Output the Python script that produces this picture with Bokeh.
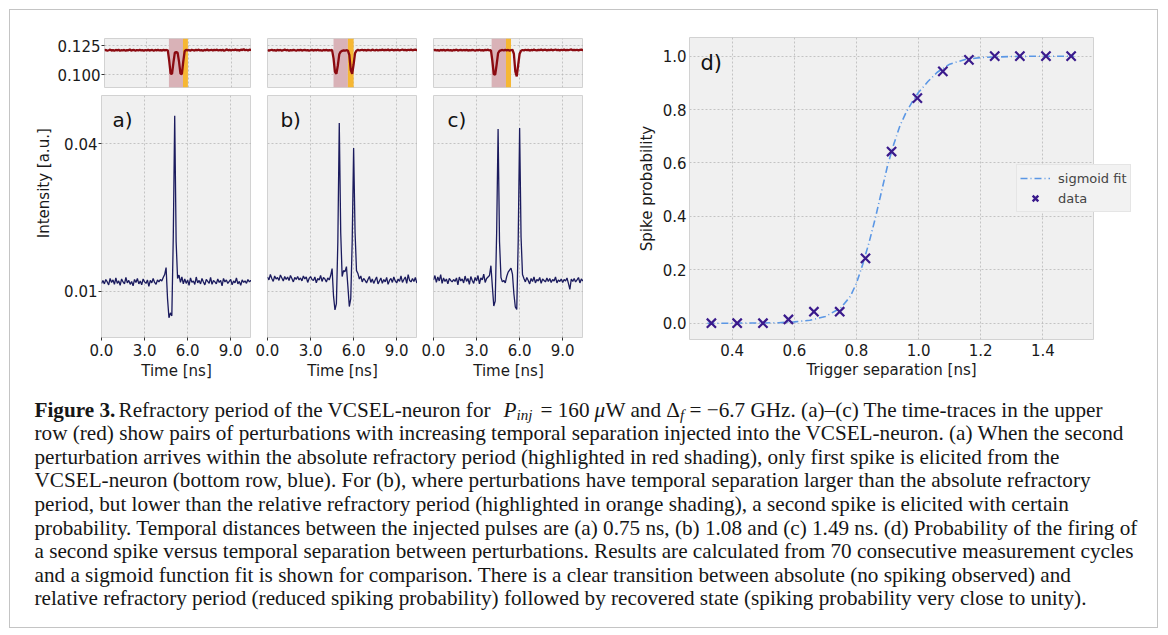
import numpy as np
from math import pi
from bokeh.plotting import figure
from bokeh.layouts import row, column
from bokeh.models import (Range1d, Label, BoxAnnotation, Legend, LegendItem,
                          FixedTicker, PrintfTickFormatter)
from bokeh.embed import file_html
from bokeh.resources import INLINE

# ---------------- data ----------------
# oscilloscope time base: 0.1 ns per sample, 0 .. 10.5 ns
time_step_ns = 0.1
n_samples = 106

# injected perturbations (upper row, red) in units of 1e-3
trigger_a = [120.8, 121.3, 120.6, 121.0, 121.5, 120.7, 121.1, 120.5, 121.2, 120.9,
             121.4, 120.6, 121.0, 120.8, 121.3, 120.5, 121.1, 120.9, 121.6, 120.7,
             121.0, 121.3, 120.6, 121.2, 120.8, 121.4, 120.9, 121.1, 120.5, 121.2,
             120.8, 121.5, 120.7, 121.0, 121.3, 120.6, 121.2, 120.9, 121.4, 120.8,
             121.1, 120.7, 121.3, 120.9, 121.2, 120.8, 112.0, 101.0, 100.8, 110.5,
             119.0, 119.5, 118.8, 111.0, 101.0, 100.6, 111.5, 120.2, 121.3, 120.9,
             121.2, 120.6, 121.4, 121.0, 120.7, 121.3, 120.9, 121.5, 120.8, 121.1,
             120.6, 121.2, 120.9, 121.6, 120.8, 121.0, 121.4, 120.7, 121.3, 121.0,
             121.5, 120.8, 121.2, 120.9, 121.4, 120.6, 121.1, 121.7, 120.9, 121.3,
             120.8, 121.4, 121.0, 121.6, 120.9, 121.2, 120.7, 121.5, 121.1, 121.8,
             121.0, 121.4, 120.8, 121.5, 121.2, 121.0]
trigger_b = [121.2, 120.7, 121.0, 121.4, 120.8, 121.1, 120.6, 121.3, 120.9, 121.2,
             120.7, 121.0, 121.5, 120.9, 121.2, 120.6, 121.1, 120.8, 121.3, 121.0,
             120.6, 121.2, 120.9, 121.4, 120.7, 121.0, 121.3, 120.8, 121.1, 120.5,
             121.0, 121.3, 120.7, 121.2, 120.9, 121.4, 120.8, 121.0, 120.6, 121.2,
             120.9, 121.3, 120.7, 121.1, 120.9, 121.2, 114.0, 102.5, 100.8, 108.0,
             117.5, 119.8, 120.5, 120.9, 120.6, 121.0, 120.7, 117.0, 104.0, 100.9,
             109.0, 118.5, 120.6, 121.3, 120.8, 121.1, 121.4, 120.9, 121.2, 120.7,
             121.3, 121.0, 120.8, 121.5, 121.1, 120.9, 121.4, 120.8, 121.2, 121.0,
             121.5, 120.9, 121.3, 121.0, 121.6, 120.8, 121.2, 121.4, 120.9, 121.3,
             121.0, 121.5, 120.8, 121.2, 121.6, 121.0, 121.3, 120.9, 121.4, 121.1,
             121.5, 120.9, 121.3, 121.6, 121.0, 121.2]
trigger_c = [120.9, 121.3, 120.8, 121.1, 120.6, 121.2, 120.9, 121.4, 120.7, 121.0,
             121.3, 120.8, 121.1, 120.6, 121.2, 120.9, 121.5, 120.7, 121.0, 121.3,
             120.8, 121.2, 120.9, 121.4, 120.7, 121.1, 120.8, 121.3, 121.0, 120.6,
             121.2, 120.9, 121.4, 120.8, 121.1, 120.7, 121.3, 121.0, 121.5, 120.8,
             121.1, 112.0, 100.5, 100.2, 109.0, 118.5, 120.4, 120.9, 121.2, 120.8,
             121.3, 120.9, 121.2, 120.7, 121.0, 121.4, 118.0, 103.0, 98.7, 108.5,
             118.0, 120.6, 121.2, 120.8, 121.4, 121.0, 121.3, 120.7, 121.2, 120.9,
             121.5, 121.0, 120.8, 121.3, 121.1, 121.6, 120.9, 121.2, 121.4, 120.8,
             121.3, 121.0, 121.5, 120.9, 121.2, 121.6, 121.0, 121.3, 120.8, 121.4,
             121.1, 121.5, 120.9, 121.2, 121.0, 121.4, 121.7, 121.0, 121.3, 121.1,
             121.4, 120.9, 121.2, 121.5, 121.0, 121.2]

# VCSEL-neuron response (lower row, blue) in units of 1e-3
response_a = [11.6, 12.2, 11.5, 12.4, 11.9, 11.3, 12.6, 11.8, 12.3, 11.4,
              12.7, 11.6, 12.1, 11.2, 12.5, 11.9, 11.5, 12.8, 11.7, 12.2,
              11.4, 12.0, 11.1, 12.4, 11.8, 12.6, 11.5, 12.1, 11.3, 12.5,
              11.9, 11.6, 12.3, 11.0, 12.2, 11.7, 12.6, 11.8, 11.4, 12.3,
              11.9, 12.4, 12.1, 12.8, 13.4, 14.8, 8.5, 4.6, 5.6, 5.0,
              21.0, 45.7, 20.0, 12.6, 13.3, 11.8, 12.9, 11.5, 12.5, 11.6,
              12.3, 11.2, 12.7, 11.8, 12.1, 11.4, 12.9, 11.7, 12.2, 11.5,
              12.6, 11.9, 11.3, 12.4, 12.0, 11.6, 12.8, 11.4, 12.2, 11.9,
              11.5, 12.5, 11.8, 12.2, 11.1, 12.6, 11.9, 12.3, 11.6, 12.0,
              12.4, 11.3, 12.1, 11.7, 12.7, 11.5, 12.0, 11.2, 12.3, 11.8,
              12.1, 11.6, 12.4, 11.9, 12.2, 11.8]
response_b = [12.9, 12.3, 13.4, 12.6, 12.0, 13.1, 12.5, 12.8, 12.2, 13.3,
              12.7, 12.1, 13.0, 12.4, 12.9, 12.2, 13.2, 12.6, 11.9, 12.8,
              12.4, 13.0, 12.3, 12.7, 12.1, 13.1, 12.5, 12.9, 11.8, 12.6,
              13.0, 12.4, 12.2, 12.9, 11.7, 12.6, 12.3, 13.2, 12.0, 12.8,
              12.5, 11.9, 12.7, 12.3, 13.2, 14.6, 9.0, 6.2, 7.5, 20.0,
              44.2, 22.0, 13.0, 14.2, 14.0, 15.0, 11.0, 6.9, 8.5, 20.0,
              39.1, 22.0, 14.2, 13.6, 12.5, 13.1, 11.9, 12.6, 12.2, 11.7,
              12.4, 13.0, 11.8, 12.5, 11.6, 12.3, 12.9, 11.5, 12.1, 12.7,
              11.6, 12.4, 11.9, 12.8, 11.4, 12.2, 12.6, 11.8, 12.9, 12.1,
              11.7, 12.5, 12.0, 13.1, 11.8, 12.4, 12.9, 11.6, 13.4, 12.2,
              11.9, 12.6, 12.0, 12.8, 11.7, 12.3]
response_c = [12.3, 13.2, 11.8, 12.9, 12.1, 13.4, 11.6, 12.7, 12.0, 12.5,
              11.5, 12.6, 12.2, 11.9, 12.4, 12.0, 12.7, 11.3, 12.9, 12.1,
              12.5, 11.7, 13.1, 12.0, 12.6, 11.4, 13.0, 12.2, 11.6, 12.8,
              12.1, 13.2, 11.5, 12.7, 12.3, 13.5, 11.8, 12.6, 12.9, 13.2,
              15.2, 11.0, 7.0, 8.0, 22.0, 43.0, 20.0, 12.8, 11.9, 12.2,
              11.7, 13.0, 13.9, 14.3, 14.7, 13.5, 9.5, 6.8, 6.3, 20.0,
              43.2, 21.0, 13.4, 12.6, 11.9, 12.8, 12.2, 11.5, 12.6, 12.0,
              12.9, 11.7, 12.4, 12.1, 12.8, 11.6, 12.5, 12.2, 11.9, 12.7,
              12.0, 12.6, 11.8, 12.4, 12.1, 12.9, 11.7, 12.3, 12.0, 12.5,
              11.8, 12.4, 12.1, 12.7, 11.6, 10.4, 12.5, 12.0, 12.6, 11.9,
              12.3, 12.8, 11.7, 12.5, 12.1, 12.4]

panel_letters = ["a)", "b)", "c)"]
letter_x_ns = [0.77, 0.9, 0.97]
# shaded periods [ns]: absolute refractory (red), relative refractory (orange)
absolute_start = [4.58, 4.60, 4.05]
absolute_end = [5.58, 5.60, 5.05]
relative_end = [5.93, 6.00, 5.40]

time_ticks = [0, 3, 6, 9]
top_ticks = [0.100, 0.125]
bottom_ticks = [0.01, 0.04]

# panel d
trigger_separation = [0.333, 0.416, 0.499, 0.581, 0.663, 0.746, 0.829, 0.913,
                      0.996, 1.078, 1.162, 1.245, 1.326, 1.410, 1.491]
spike_probability = [0.0, 0.0, 0.0, 0.014, 0.043, 0.043, 0.243, 0.643,
                     0.843, 0.943, 0.986, 1.0, 1.0, 1.0, 1.0]
fit_x = [0.32, 0.40, 0.45, 0.50, 0.55, 0.60, 0.65, 0.70, 0.75, 0.78, 0.80, 0.82,
         0.84, 0.86, 0.88, 0.90, 0.92, 0.94, 0.96, 0.98, 1.00, 1.03, 1.06, 1.10,
         1.15, 1.20, 1.30, 1.40, 1.50]
fit_y = [0.000, 0.000, 0.001, 0.001, 0.002, 0.005, 0.011, 0.025, 0.058, 0.10, 0.15,
         0.22, 0.30, 0.39, 0.49, 0.59, 0.67, 0.74, 0.79, 0.83, 0.865, 0.905, 0.94,
         0.970, 0.988, 0.995, 0.999, 1.0, 1.0]
d_x_ticks = [0.4, 0.6, 0.8, 1.0, 1.2, 1.4]
d_y_ticks = [0.0, 0.2, 0.4, 0.6, 0.8, 1.0]
legend_labels = ["sigmoid fit", "data"]

caption_first = [
    ("Figure 3.", 34.0, 0, "21.2px", "bold"),
    ("Refractory period of the VCSEL-neuron for", 118.0, 0, "21.2px", "normal"),
    ("P", 503.0, 0, "21.2px", "italic"),
    ("inj", 516.0, 5, "15px", "italic"),
    ("= 160", 540.0, 0, "21.2px", "normal"),
    ("\u03bc", 594.0, 0, "21.2px", "italic"),
    ("W and \u0394", 605.0, 0, "21.2px", "normal"),
    ("f", 679.5, 5, "15px", "italic"),
    ("= \u22126.7 GHz. (a)\u2013(c) The time-traces in the upper", 689.0, 0, "21.2px", "normal"),
]
caption_rest = [
    "row (red) show pairs of perturbations with increasing temporal separation injected into the VCSEL-neuron. (a) When the second",
    "perturbation arrives within the absolute refractory period (highlighted in red shading), only first spike is elicited from the",
    "VCSEL-neuron (bottom row, blue). For (b), where perturbations have temporal separation larger than the absolute refractory",
    "period, but lower than the relative refractory period (highlighted in orange shading), a second spike is elicited with certain",
    "probability. Temporal distances between the injected pulses are (a) 0.75 ns, (b) 1.08 and (c) 1.49 ns. (d) Probability of the firing of",
    "a second spike versus temporal separation between perturbations. Results are calculated from 70 consecutive measurement cycles",
    "and a sigmoid function fit is shown for comparison. There is a clear transition between absolute (no spiking observed) and",
    "relative refractory period (reduced spiking probability) followed by recovered state (spiking probability very close to unity).",
]

# ---------------- styling ----------------
time_ns = np.arange(n_samples) * time_step_ns
SANS = "DejaVu Sans"
SERIF = "Liberation Serif"
BG = "#f0f0f0"
RED = "#8b0a10"
BLUE = "#1b1b5e"
ABS_COL = "#d9b2b7"
REL_COL = "#f6b733"
FIT_COL = "#5b97e5"
DATA_COL = "#3a1a8c"
X_MAX = 10.45


def base_fig(w, h, xr, yr, ml, mr, mt, mb):
    p = figure(width=w, height=h, x_range=xr, y_range=yr, output_backend="svg",
               toolbar_location=None, min_border_left=ml, min_border_right=mr,
               min_border_top=mt, min_border_bottom=mb)
    p.background_fill_color = BG
    p.border_fill_color = "white"
    p.outline_line_color = "#d2d2d2"
    p.outline_line_width = 1
    for ax in p.axis:
        ax.axis_line_color = None
        ax.major_tick_line_color = "#333333"
        ax.minor_tick_line_color = None
        ax.major_tick_in = 0
        ax.major_tick_out = 3
        ax.major_label_standoff = 1
        ax.major_label_text_font = SANS
        ax.major_label_text_font_size = "15px"
        ax.major_label_text_color = "#1a1a1a"
        ax.axis_label_text_font = SANS
        ax.axis_label_text_font_style = "normal"
        ax.axis_label_text_font_size = "15px"
        ax.axis_label_text_color = "#1a1a1a"
    p.grid.grid_line_color = "#b8b8b8"
    p.grid.grid_line_dash = "2 2"
    p.grid.grid_line_width = 0.8
    return p


triggers = [trigger_a, trigger_b, trigger_c]
responses = [response_a, response_b, response_c]
tops, bots = [], []
for i in range(3):
    ml = 47 if i == 0 else 16
    w = ml + 150
    # upper (trigger) panel
    pt = base_fig(w, 81, Range1d(0, X_MAX), Range1d(0.0892, 0.131), ml, 0, 28, 4)
    pt.add_layout(BoxAnnotation(left=absolute_start[i], right=absolute_end[i],
                                fill_color=ABS_COL, fill_alpha=1.0, line_color=None,
                                level="underlay"))
    pt.add_layout(BoxAnnotation(left=absolute_end[i], right=relative_end[i],
                                fill_color=REL_COL, fill_alpha=1.0, line_color=None,
                                level="underlay"))
    pt.line(time_ns, np.array(triggers[i]) / 1000.0, line_color=RED, line_width=2.3)
    pt.xaxis.ticker = FixedTicker(ticks=time_ticks)
    pt.yaxis.ticker = FixedTicker(ticks=top_ticks)
    pt.yaxis.formatter = PrintfTickFormatter(format="%.3f")
    pt.xaxis.visible = False
    if i > 0:
        pt.yaxis.visible = False
    tops.append(pt)

    # lower (response) panel
    pb = base_fig(w, 294, Range1d(0, X_MAX), Range1d(0.0006, 0.0498), ml, 0, 4, 48)
    pb.line(time_ns, np.array(responses[i]) / 1000.0, line_color=BLUE, line_width=1.3)
    pb.xaxis.ticker = FixedTicker(ticks=time_ticks)
    pb.yaxis.ticker = FixedTicker(ticks=bottom_ticks)
    pb.xaxis.formatter = PrintfTickFormatter(format="%.1f")
    pb.yaxis.formatter = PrintfTickFormatter(format="%.2f")
    pb.xaxis.axis_label = "Time [ns]"
    pb.xaxis.major_label_standoff = 3
    pb.xaxis.axis_label_standoff = 3
    if i > 0:
        pb.yaxis.visible = False
    pb.add_layout(Label(x=letter_x_ns[i], y=0.0448, text=panel_letters[i],
                        text_font=SANS, text_font_size="20px", text_color="#111111",
                        text_baseline="alphabetic"))
    bots.append(pb)

# y-label strip spanning both rows
strip = figure(width=44, height=375, x_range=Range1d(0, 44), y_range=Range1d(375, 0),
               output_backend="svg", toolbar_location=None, x_axis_type=None,
               y_axis_type=None, min_border=0)
strip.outline_line_color = None
strip.grid.visible = False
strip.add_layout(Label(x=33, y=178, text="Intensity  [a.u.]", angle=pi / 2,
                       text_align="center", text_baseline="middle", text_font=SANS,
                       text_font_size="15px", text_color="#1a1a1a"))

# panel d
pd_ = base_fig(574, 375, Range1d(0.2625, 1.563), Range1d(-0.061, 1.07), 106, 64, 27, 46)
pd_.line(fit_x, fit_y, line_color=FIT_COL, line_width=1.6, line_dash="7 3 1 3")
pd_.scatter(trigger_separation, spike_probability, marker="x", size=13,
            line_width=2.2, color=DATA_COL)
pd_.xaxis.ticker = FixedTicker(ticks=d_x_ticks)
pd_.yaxis.ticker = FixedTicker(ticks=d_y_ticks)
pd_.xaxis.formatter = PrintfTickFormatter(format="%.1f")
pd_.yaxis.formatter = PrintfTickFormatter(format="%.1f")
for ax in pd_.axis:
    ax.major_tick_out = 0
pd_.xaxis.major_label_standoff = 4
pd_.yaxis.major_label_standoff = 3
pd_.xaxis.axis_label = "Trigger separation [ns]"
pd_.yaxis.axis_label = "Spike probability"
pd_.xaxis.axis_label_standoff = 2
pd_.yaxis.axis_label_standoff = 4
pd_.add_layout(Label(x=0.298, y=0.976, text="d)", text_font=SANS, text_font_size="21px",
                     text_color="#111111", text_baseline="alphabetic"))

# legend of panel d: it sticks out of the plot frame in the reference, so it is
# drawn in a small overlay figure placed over panel d.  The legend's renderers
# carry the same data as panel d, but their view range keeps them out of sight.
leg_fig = figure(width=124, height=50, x_range=Range1d(5, 6), y_range=Range1d(5, 6),
                 output_backend="svg", toolbar_location=None, x_axis_type=None,
                 y_axis_type=None, min_border=0,
                 styles={"position": "absolute", "left": "1015px", "top": "163px",
                         "z-index": "10"})
leg_fig.outline_line_color = None
leg_fig.background_fill_alpha = 0
leg_fig.border_fill_alpha = 0
leg_fig.grid.visible = False
fit_proxy = leg_fig.line(fit_x, fit_y, line_color=FIT_COL, line_width=1.6,
                         line_dash="7 3 1 3")
pts_proxy = leg_fig.scatter(trigger_separation, spike_probability, marker="x", size=13,
                            line_width=2.4, color=DATA_COL)
legend = Legend(items=[LegendItem(label=legend_labels[0], renderers=[fit_proxy]),
                       LegendItem(label=legend_labels[1], renderers=[pts_proxy])],
                location="top_left")
legend.background_fill_color = "#f2f2f2"
legend.background_fill_alpha = 1.0
legend.border_line_color = "#d8d8d8"
legend.label_text_font = SANS
legend.label_text_font_size = "13px"
legend.label_standoff = 8
legend.glyph_width = 30
legend.glyph_height = 20
legend.label_height = 20
legend.padding = 3
legend.spacing = 0
legend.margin = 1
leg_fig.add_layout(legend)

# caption
CAP_W, CAP_H = 1147, 242
cap = figure(width=CAP_W, height=CAP_H, x_range=Range1d(0, CAP_W), y_range=Range1d(CAP_H, 0),
             output_backend="svg", toolbar_location=None, x_axis_type=None,
             y_axis_type=None, min_border=0)
cap.outline_line_color = None
cap.grid.visible = False
X0, Y0 = 10, 385
base0 = 409.0
line_gap = 23.6
for text, xp, dy, size, style in caption_first:
    cap.add_layout(Label(x=xp - X0, y=base0 + dy - Y0, text=text, text_font=SERIF,
                         text_font_size=size, text_font_style=style,
                         text_color="#161616", text_baseline="alphabetic"))
for k, text in enumerate(caption_rest):
    cap.add_layout(Label(x=34 - X0, y=base0 + (k + 1) * line_gap - Y0, text=text,
                         text_font=SERIF, text_font_size="21.2px", text_color="#161616",
                         text_baseline="alphabetic"))

left_block = column(row(*tops, spacing=0), row(*bots, spacing=0), spacing=0)
top_part = row(strip, left_block, pd_, spacing=0)
layout = column(top_part, cap, spacing=0, margin=(9, 0, 0, 9),
                styles={"border": "1px solid #c4c4c4"})

open("out.html", "w").write(file_html([layout, leg_fig], INLINE))
